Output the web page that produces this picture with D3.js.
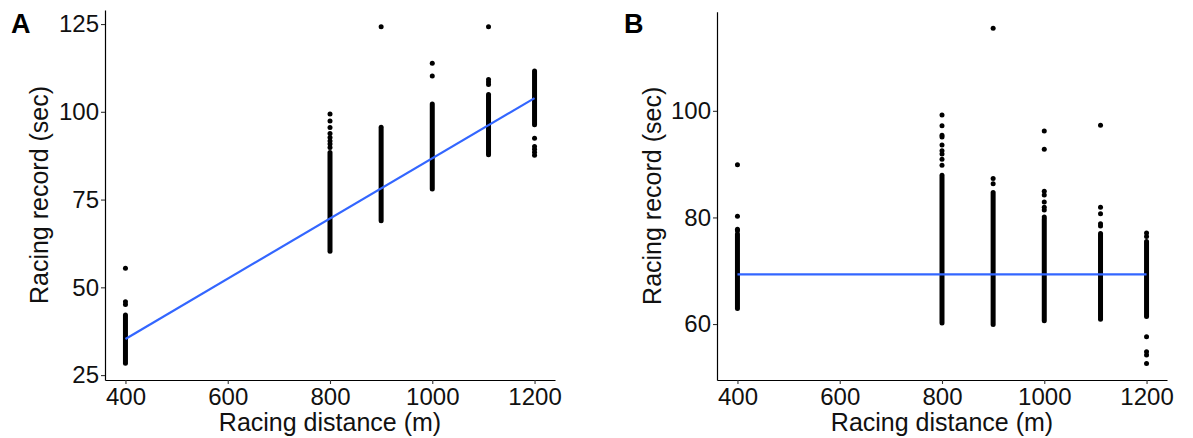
<!DOCTYPE html>
<html>
<head>
<meta charset="utf-8">
<script src="https://cdn.jsdelivr.net/npm/d3@7"></script>
<style>
  html, body { margin: 0; padding: 0; background: #fff; }
  svg { display: block; font-family: "Liberation Sans", Arial, sans-serif; }
</style>
</head>
<body>
<svg id="chart" width="1193" height="438"></svg>
<script>
// ---------- data ----------
const distances = [400, 800, 900, 1000, 1110, 1200];
const xTicks = [400, 600, 800, 1000, 1200];

// Panel A: raw racing record
const aTicks = [25, 50, 75, 100, 125];
const aDenseLow  = [28.4, 60.3, 69.0, 78.0, 87.8, 96.3];
const aDenseHigh = [42.1, 88.4, 95.6, 102.2, 104.9, 111.6];
const aOutlierDist = [400, 400, 400,
  800, 800, 800, 800, 800, 800, 800, 800,
  900,
  1000, 1000,
  1110, 1110, 1110, 1110,
  1200, 1200, 1200, 1200, 1200];
const aOutlierVal = [45.1, 45.9, 55.4,
  89.8, 90.8, 91.7, 92.7, 93.8, 95.5, 97.4, 99.4,
  124.2,
  110.2, 113.8,
  107.8, 108.5, 109.2, 124.2,
  87.6, 88.5, 89.3, 90.1, 92.5];
const aFit = [35.3, 103.9]; // fitted line at 400 and 1200

// Panel B: adjusted racing record
const bTicks = [60, 80, 100];
const bDenseLow  = [62.9, 60.2, 59.9, 60.6, 60.9, 61.4];
const bDenseHigh = [76.9, 87.9, 84.7, 79.7, 77.0, 75.5];
const bOutlierDist = [400, 400, 400, 400,
  800, 800, 800, 800, 800, 800, 800, 800, 800,
  900, 900, 900,
  1000, 1000, 1000, 1000, 1000, 1000, 1000, 1000,
  1110, 1110, 1110, 1110, 1110,
  1200, 1200, 1200, 1200, 1200, 1200];
const bOutlierVal = [89.9, 80.2, 77.8, 77.5,
  99.2, 97.2, 95.4, 95.1, 93.6, 92.5, 91.9, 90.9, 89.8,
  115.5, 87.3, 86.3,
  96.2, 92.8, 84.9, 84.2, 82.9, 81.9, 81.4, 80.1,
  97.3, 81.9, 80.7, 78.8, 78.4,
  77.1, 76.4, 57.6, 54.8, 54.2, 52.6];
const bFit = [69.3, 69.3];

// ---------- drawing ----------
const svg = d3.select("#chart");
svg.append("rect").attr("width", 1193).attr("height", 438).attr("fill", "#fff");

const R = 2.5;
const tickFont = 24, titleFont = 25;

function panel(cfg) {
  const x = d3.scaleLinear().domain([360, 1240]).range(cfg.xRange);
  const y = d3.scaleLinear().domain(cfg.yDomain).range(cfg.yRange);
  const g = svg.append("g");

  // dense columns
  g.selectAll("line.dense").data(distances).join("line")
    .attr("class", "dense")
    .attr("x1", d => x(d)).attr("x2", d => x(d))
    .attr("y1", (d, i) => y(cfg.low[i])).attr("y2", (d, i) => y(cfg.high[i]))
    .attr("stroke", "#000").attr("stroke-width", 2 * R).attr("stroke-linecap", "round");

  // individual points
  g.selectAll("circle.pt").data(cfg.oDist).join("circle")
    .attr("class", "pt")
    .attr("cx", d => x(d)).attr("cy", (d, i) => y(cfg.oVal[i]))
    .attr("r", R).attr("fill", "#000");

  // fit line
  g.append("line")
    .attr("x1", x(400)).attr("x2", x(1200))
    .attr("y1", y(cfg.fit[0])).attr("y2", y(cfg.fit[1]))
    .attr("stroke", "#3366FF").attr("stroke-width", 2.2);

  // axes
  const yAxis = g.append("g").attr("transform", `translate(${cfg.xRange[0]},0)`)
    .call(d3.axisLeft(y).tickValues(cfg.yTicks).tickFormat(d3.format("d"))
      .tickSize(4).tickSizeOuter(0).tickPadding(2));
  const xAxis = g.append("g").attr("transform", `translate(0,${cfg.yRange[0]})`)
    .call(d3.axisBottom(x).tickValues(xTicks).tickFormat(d3.format("d"))
      .tickSize(4).tickSizeOuter(0).tickPadding(4));
  [yAxis, xAxis].forEach(a => {
    a.select(".domain").attr("stroke", "#000").attr("stroke-width", 1.2);
    a.selectAll(".tick line").attr("stroke", "#333").attr("stroke-width", 1.1);
    a.selectAll(".tick text").attr("fill", "#111").style("font-size", tickFont + "px")
      .style("font-family", "'Liberation Sans', Arial, sans-serif");
  });

  // titles
  g.append("text")
    .attr("x", (cfg.xRange[0] + cfg.xRange[1]) / 2).attr("y", 431)
    .attr("text-anchor", "middle").style("font-size", titleFont + "px").attr("fill", "#111")
    .text("Racing distance (m)");
  g.append("text")
    .attr("transform", `translate(${cfg.yTitleX},${(cfg.yRange[0] + cfg.yRange[1]) / 2}) rotate(-90)`)
    .attr("text-anchor", "middle").style("font-size", titleFont + "px").attr("fill", "#111")
    .text("Racing record (sec)");
  g.append("text")
    .attr("x", cfg.letterX).attr("y", 33)
    .style("font-size", "27px").style("font-weight", "bold").attr("fill", "#000")
    .text(cfg.letter);
}

panel({
  xRange: [105, 555], yRange: [380, 10], yDomain: [23.6, 129], yTicks: aTicks,
  low: aDenseLow, high: aDenseHigh, oDist: aOutlierDist, oVal: aOutlierVal, fit: aFit,
  yTitleX: 48, letter: "A", letterX: 11
});
panel({
  xRange: [717, 1167], yRange: [380, 11.7], yDomain: [49.5, 118.6], yTicks: bTicks,
  low: bDenseLow, high: bDenseHigh, oDist: bOutlierDist, oVal: bOutlierVal, fit: bFit,
  yTitleX: 661, letter: "B", letterX: 624
});
</script>
</body>
</html>
